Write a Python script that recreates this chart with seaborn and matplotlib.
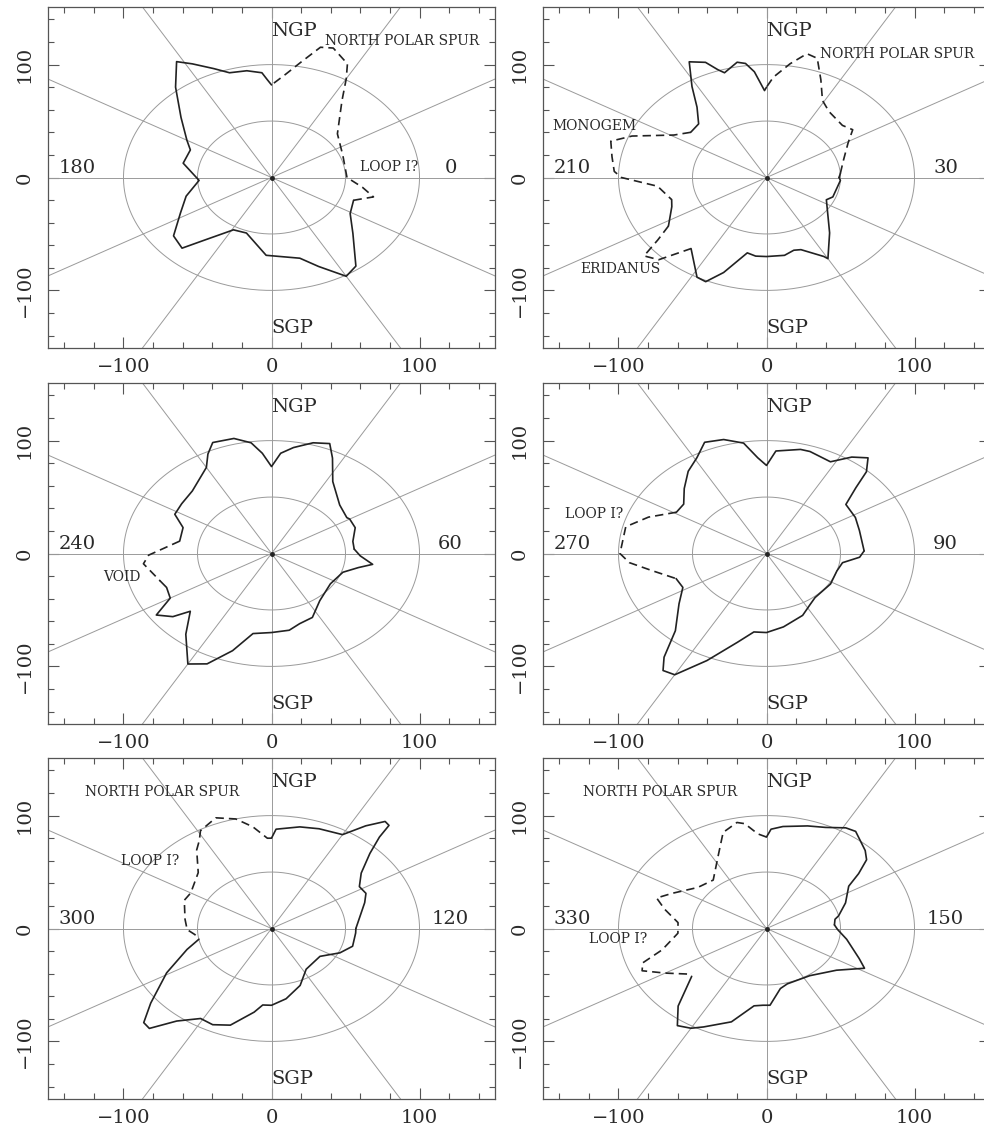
import numpy as np
import pandas as pd
import matplotlib
matplotlib.use("Agg")
import matplotlib.pyplot as plt
from matplotlib.ticker import MultipleLocator
import seaborn as sns

sns.set_theme(style="white")
plt.rcParams["font.family"] = ["DejaVu Serif"]

# Galactic longitudes bounding each meridian slice (left half, right half)
LON_LEFT = [180, 210, 240, 270, 300, 330]
LON_RIGHT = [0, 30, 60, 90, 120, 150]

# Cavity boundary per slice: in-plane angle (deg, 0 = right-hand longitude, 90 = NGP)
# and boundary distance (pc).  Dashed spans mark uncertain / open directions.
S1_ANG = [0, 22, 41, 55, 60, 63, 70, 74, 79, 84, 90, 92, 94, 100, 107, 112, 118, 122, 129, 139,
          150, 156, 168, 183, 196, 207, 218, 226, 231, 241, 251, 267, 285, 292, 300, 306, 318,
          329, 340, 346, 352]
S1_DIST = [51, 52, 59, 83, 101, 113, 122, 120, 104, 92, 82, 87, 93, 96, 97, 104, 114, 121, 103, 81,
           66, 60, 61, 49, 60, 69, 84, 87, 71, 53, 52, 69, 74, 85, 101, 97, 74,
           62, 59, 71, 62]
S1_DASHED = [(340, 90)]

S2_ANG = [0, 4, 16, 29, 36, 42, 54, 61, 67, 72, 76, 81, 87, 90, 91, 95, 98, 101, 107, 109, 112, 117,
          122, 127, 134, 142, 149, 158, 163, 170, 177, 180, 186, 197, 202, 213, 217, 220, 225, 231,
          242, 246, 251, 259, 264, 270, 280, 286, 290, 299, 300, 311, 334, 339, 357]
S2_DIST = [49, 50, 54, 63, 72, 69, 72, 78, 94, 111, 113, 102, 89, 80, 77, 94, 102, 104, 97, 101, 110, 115,
           95, 78, 66, 65, 73, 98, 110, 106, 103, 98, 74, 67, 69, 79, 92, 108, 103, 81,
           100, 101, 89, 68, 70, 70, 70, 67, 68, 80, 83, 65, 45, 48, 50]
S2_DASHED = [(4, 90), (142, 197), (213, 231)]

S3_ANG = [4, 11, 22, 30, 32, 43, 57, 64, 68, 74, 81, 86, 90, 94, 98, 104, 112, 116, 120, 134, 144,
          152, 159, 170, 181, 186, 198, 203, 210, 215, 220, 223, 231, 240, 246, 253, 260, 270, 280,
          287, 296, 308, 326, 341, 348, 352, 358]
S3_DIST = [56, 56, 61, 61, 60, 63, 76, 94, 105, 102, 95, 89, 77, 89, 99, 105, 106, 98, 88, 77, 75,
           74, 64, 63, 83, 87, 79, 77, 79, 95, 87, 75, 92, 113, 107, 90, 72, 70, 69,
           65, 63, 53, 48, 51, 60, 69, 60]
S3_DASHED = [(170, 198)]

S4_ANG = [2, 18, 28, 39, 44, 47, 51, 56, 62, 72, 76, 86, 90, 94, 99, 106, 113, 119, 126, 134, 142,
          149, 158, 166, 180, 185, 191, 200, 208, 217, 228, 233, 236, 240, 247, 256, 263, 270, 280,
          294, 303, 310, 328, 342, 351, 357]
S4_DIST = [66, 66, 68, 69, 84, 99, 109, 103, 92, 95, 95, 91, 78, 85, 99, 105, 107, 97, 90, 80, 71,
           71, 86, 98, 99, 93, 79, 65, 64, 74, 92, 115, 125, 124, 103, 81, 70, 70, 66,
           60, 54, 51, 51, 50, 52, 63]
S4_DASHED = [(149, 200)]

S5_ANG = [0, 20, 26, 32, 39, 45, 48, 49, 51, 55, 60, 70, 78, 88, 90, 92, 98, 104, 111, 119, 122,
          126, 135, 150, 157, 172, 181, 186, 191, 198, 209, 219, 224, 227, 232, 239, 245, 252, 261,
          265, 270, 279, 291, 303, 323, 335, 344, 356]
S5_DIST = [57, 67, 71, 70, 78, 94, 109, 121, 122, 111, 96, 94, 92, 88, 80, 80, 91, 100, 105, 99, 92,
           86, 70, 63, 64, 59, 57, 52, 50, 60, 81, 105, 120, 121, 104, 93, 94, 90, 75,
           68, 68, 63, 54, 43, 41, 51, 57, 57]
S5_DASHED = [(90, 191)]

S6_ANG = [4, 10, 13, 23, 34, 38, 42, 46, 55, 59, 66, 73, 83, 88, 90, 94, 99, 102, 109, 117, 130,
          142, 154, 160, 166, 175, 184, 195, 200, 204, 210, 217, 220, 229, 235, 240, 244, 254, 263,
          268, 272, 280, 286, 305, 322, 332, 337, 350, 359]
S6_DIST = [46, 47, 50, 58, 67, 79, 91, 96, 105, 104, 98, 95, 91, 88, 81, 84, 94, 96, 90, 72, 56,
           59, 71, 79, 71, 60, 60, 73, 89, 92, 79, 67, 66, 91, 105, 102, 97, 86, 69,
           68, 68, 54, 51, 51, 60, 75, 68, 55, 48]
S6_DASHED = [(90, 220)]

# Feature names written inside each slice
S1_NOTES = ["NORTH POLAR SPUR", "LOOP I?"]
S2_NOTES = ["NORTH POLAR SPUR", "MONOGEM", "ERIDANUS"]
S3_NOTES = ["VOID"]
S4_NOTES = ["LOOP I?"]
S5_NOTES = ["NORTH POLAR SPUR", "LOOP I?"]
S6_NOTES = ["NORTH POLAR SPUR", "LOOP I?"]

# Where those names sit (data units, left/baseline anchored)
NOTE_POS = [
    [(36, 117), (60, 6)],
    [(36, 106), (-145, 42), (-126, -85)],
    [(-114, -24)],
    [(-136, 31)],
    [(-126, 117), (-102, 56)],
    [(-124, 117), (-120, -13)],
]

SLICES = [
    (S1_ANG, S1_DIST, S1_DASHED, S1_NOTES),
    (S2_ANG, S2_DIST, S2_DASHED, S2_NOTES),
    (S3_ANG, S3_DIST, S3_DASHED, S3_NOTES),
    (S4_ANG, S4_DIST, S4_DASHED, S4_NOTES),
    (S5_ANG, S5_DIST, S5_DASHED, S5_NOTES),
    (S6_ANG, S6_DIST, S6_DASHED, S6_NOTES),
]

INK = "#222222"
GUIDE = "#9a9a9a"
FRAME = "#555555"
LIM = 151


def in_spans(a, spans):
    for s, e in spans:
        if s <= e:
            if s <= a <= e:
                return True
        elif a >= s or a <= e:
            return True
    return False


def boundary_frame(ang, dist, spans):
    a = np.array(list(ang) + [ang[0] + 360], dtype=float)
    r = np.array(list(dist) + [dist[0]], dtype=float)
    x = r * np.cos(np.deg2rad(a))
    y = r * np.sin(np.deg2rad(a))
    mids = ((a[:-1] + a[1:]) / 2) % 360
    flags = [in_spans(m, spans) for m in mids]
    rows = []
    run = 0
    for i, f in enumerate(flags):
        kind = "dashed" if f else "solid"
        if i == 0 or f != flags[i - 1]:
            if i > 0:
                run += 1
            rows.append((run, kind, x[i], y[i]))
        rows.append((run, kind, x[i + 1], y[i + 1]))
    return pd.DataFrame(rows, columns=["run", "kind", "x", "y"])


def draw_slice(ax, idx):
    ang, dist, spans, notes = SLICES[idx]
    ax.set_xlim(-LIM, LIM)
    ax.set_ylim(-LIM, LIM)

    # reference circles at 50 and 100 pc and spokes every 30 degrees
    t = np.linspace(0, 2 * np.pi, 361)
    for rad in (50, 100):
        ax.plot(rad * np.cos(t), rad * np.sin(t), color=GUIDE, lw=0.7, zorder=1)
    for a in range(0, 180, 30):
        c, s = np.cos(np.deg2rad(a)), np.sin(np.deg2rad(a))
        ax.plot([-300 * c, 300 * c], [-300 * s, 300 * s], color=GUIDE, lw=0.7, zorder=1)
    ax.plot([0], [0], marker="o", ms=2.5, color=INK, zorder=3)

    df = boundary_frame(ang, dist, spans)
    sns.lineplot(data=df, x="x", y="y", units="run", estimator=None, sort=False,
                 style="kind", style_order=["solid", "dashed"],
                 dashes={"solid": "", "dashed": (5, 3)},
                 color=INK, lw=1.2, legend=False, ax=ax, zorder=2)
    ax.set_xlabel("")
    ax.set_ylabel("")

    big = dict(fontsize=14, color="#2a2a2a", va="baseline")
    ax.text(0, 125, "NGP", ha="left", **big)
    ax.text(0, -138, "SGP", ha="left", **big)
    ax.text(-131, 4, str(LON_LEFT[idx]), ha="center", **big)
    ax.text(121, 4, str(LON_RIGHT[idx]), ha="center", **big)

    for name, (nx, ny) in zip(notes, NOTE_POS[idx]):
        ax.text(nx, ny, name, fontsize=10, color="#2a2a2a", ha="left", va="baseline")

    ax.set_xticks([-100, 0, 100])
    ax.set_xticklabels(["\u2212100", "0", "100"])
    ax.set_yticks([-100, 0, 100])
    ax.set_yticklabels(["\u2212100", "0", "100"], rotation=90, va="center")
    ax.xaxis.set_minor_locator(MultipleLocator(20))
    ax.yaxis.set_minor_locator(MultipleLocator(20))
    ax.tick_params(which="both", direction="in", top=True, right=True, bottom=True, left=True,
                   color=FRAME, width=0.8, labelsize=14, labelcolor="#2a2a2a")
    ax.tick_params(which="major", length=8)
    ax.tick_params(which="minor", length=4)
    ax.tick_params(axis="x", pad=7)
    ax.tick_params(axis="y", pad=10)
    for sp in ax.spines.values():
        sp.set_color(FRAME)
        sp.set_linewidth(0.9)
        sp.set_visible(True)


W, H = 984, 1129
fig = plt.figure(figsize=(W / 100, H / 100), dpi=100)
col_left = [48, 543]
row_top = [7, 383, 758]
pw, ph = 447, 341
for i in range(6):
    r, c = divmod(i, 2)
    ax = fig.add_axes([col_left[c] / W, 1 - (row_top[r] + ph) / H, pw / W, ph / H])
    ax.set_facecolor("white")
    draw_slice(ax, i)

fig.savefig("out.png", dpi=100, facecolor="white")
